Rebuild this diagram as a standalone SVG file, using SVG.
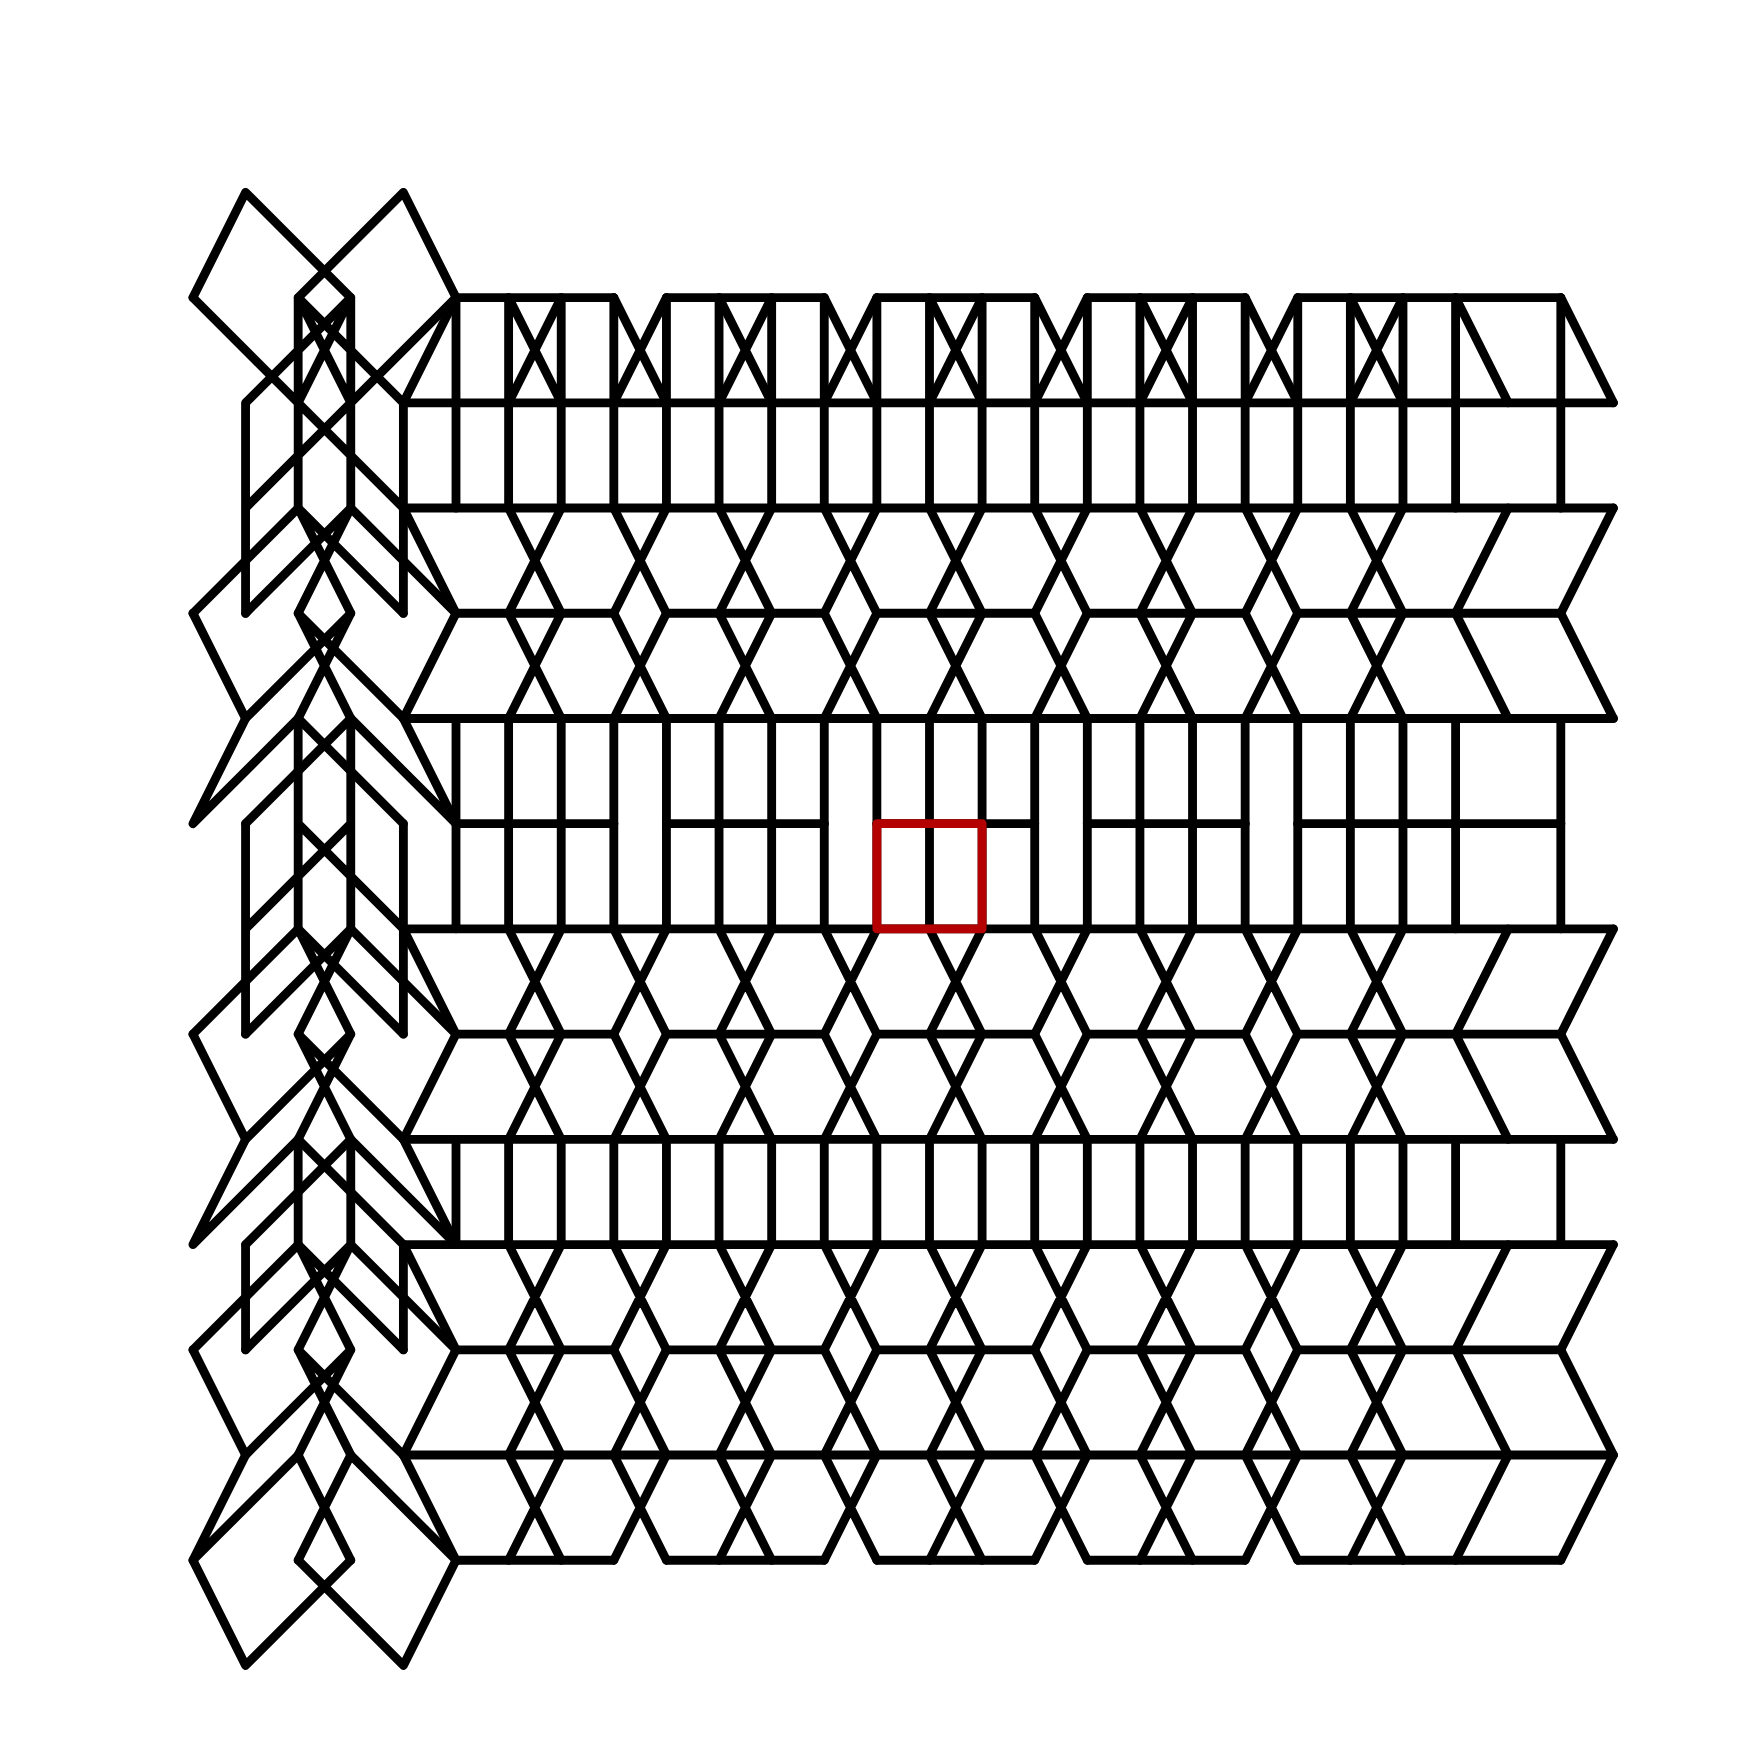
<svg xmlns="http://www.w3.org/2000/svg" width="1754" height="1754" viewBox="0 0 1754 1754">
<style>
.ln{fill:none;stroke:#000;stroke-width:0.168;stroke-linecap:round;stroke-linejoin:round}
.red{fill:none;stroke:#b40000;stroke-width:0.168;stroke-linecap:round;stroke-linejoin:round}
</style>
<defs>
<path id="xr" d="M1 0L2 2M2 0L1 2M3 0L4 2M4 0L3 2M5 0L6 2M6 0L5 2M7 0L8 2M8 0L7 2M9 0L10 2M10 0L9 2M11 0L12 2M12 0L11 2M13 0L14 2M14 0L13 2M15 0L16 2M16 0L15 2M17 0L18 2M18 0L17 2"/>
<path id="chA" d="M0 0L-1 2M19 0L20 2M21 0L22 2"/>
<path id="chB" d="M-1 0L0 2M20 0L19 2M22 0L21 2"/>
<path id="gapH" d="M0 0H3M4 0H7M8 0H11M12 0H15M16 0H21"/>
<path id="fullH" d="M-1 0H22"/>
<path id="vb" d="M0 0V2M1 0V2M2 0V2M3 0V2M4 0V2M5 0V2M6 0V2M7 0V2M8 0V2M9 0V2M10 0V2M11 0V2M12 0V2M13 0V2M14 0V2M15 0V2M16 0V2M17 0V2M18 0V2M19 0V2M21 0V2"/>
<path id="junc" d="M-3 0L-1 2M-2 0L-4 2M-3 0L-2 2M-2 0L-3 2M-5 2L-3 0M0 2L-2 0"/>
<path id="kite" d="M-5 0L-4 2M-3 0L-1 2M-2 0L-4 2M-3 2L-2 0M-2 2L-3 0"/>
<path id="bst" d="M-4 0L-5 2M-1 0L0 2M-3 0L-5 2M-2 0L0 2M-3 0L-1 2M-2 0L-4 2"/>
</defs>
<rect width="1754" height="1754" fill="#fff"/>
<g transform="translate(456 297.6) scale(52.61)">
<g id="main-grid" class="ln">
<use href="#gapH"/>
<use href="#gapH" y="6"/>
<use href="#gapH" y="10"/>
<use href="#gapH" y="14"/>
<use href="#gapH" y="20"/>
<use href="#gapH" y="24"/>
<use href="#fullH" y="2"/>
<use href="#fullH" y="4"/>
<use href="#fullH" y="8"/>
<use href="#fullH" y="12"/>
<use href="#fullH" y="16"/>
<use href="#fullH" y="18"/>
<use href="#fullH" y="22"/>
<use href="#vb"/>
<use href="#vb" y="2"/>
<use href="#vb" y="8"/>
<use href="#vb" y="10"/>
<use href="#vb" y="16"/>
<use href="#xr"/>
<use href="#xr" y="4"/>
<use href="#xr" y="6"/>
<use href="#xr" y="12"/>
<use href="#xr" y="14"/>
<use href="#xr" y="18"/>
<use href="#xr" y="20"/>
<use href="#xr" y="22"/>
<use href="#chA"/>
<use href="#chA" y="6"/>
<use href="#chA" y="14"/>
<use href="#chA" y="20"/>
<use href="#chB" y="4"/>
<use href="#chB" y="12"/>
<use href="#chB" y="18"/>
<use href="#chB" y="22"/>
</g>
<g id="left-column" class="ln">
<path d="M-4 -2L-5 0M-4 -2L-2 0M-1 -2L0 0M-1 -2L-3 0"/>
<path d="M-3 0L-1 2M-2 0L-4 2M-3 0L-2 2M-2 0L-3 2M-5 0L-1 4M0 0L-4 4M-3 0V4M-2 0V4M-4 2V6M-1 2V6"/>
<use href="#junc" y="4"/>
<use href="#junc" y="12"/>
<use href="#junc" y="18"/>
<use href="#kite" y="6"/>
<use href="#kite" y="14"/>
<use href="#kite" y="20"/>
<use href="#bst" y="8"/>
<use href="#bst" y="16"/>
<path d="M-3 8V12M-2 8V12M-4 10V14M-1 10V14M-3 10L-1 12M-2 10L-4 12"/>
<path d="M-3 16V18M-2 16V18M-4 18V20M-1 18V20"/>
<path d="M-4 22L-5 24M-3 22L-5 24M-2 22L0 24M-3 22L-2 24M-2 22L-3 24"/>
<path d="M-5 24L-4 26M-4 26L-2 24M0 24L-1 26M-1 26L-3 24"/>
</g>
<g id="highlight">
<rect class="red" x="8" y="10" width="2" height="2"/>
</g>
</g>
</svg>
